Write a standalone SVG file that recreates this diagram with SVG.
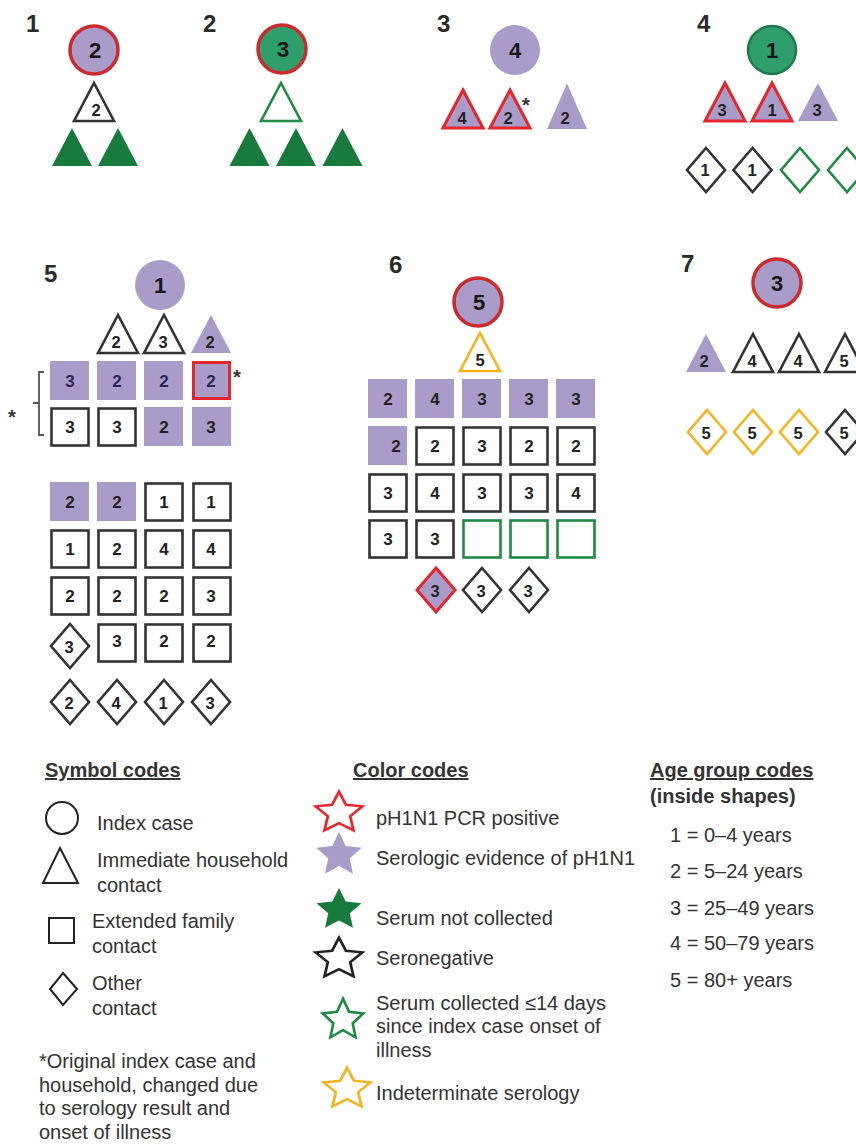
<svg xmlns="http://www.w3.org/2000/svg" xmlns:xlink="http://www.w3.org/1999/xlink" width="856" height="1144" viewBox="0 0 856 1144">
<defs>
<style>
.lav{fill:#a99cc8;stroke:none}
.lavr{fill:#a99cc8;stroke:#e3262b;stroke-width:3}
.lavrc{fill:#a99cc8;stroke:#cc2a2d;stroke-width:3.5}
.blk{fill:#fff;stroke:#333;stroke-width:2.6}
.go{fill:#fff;stroke:#1e8a42;stroke-width:2.6}
.yo{fill:#fff;stroke:#f5b41f;stroke-width:2.6}
.gf{fill:#187a3c;stroke:none}
.teal{fill:#2e9e6c;stroke:#cc2a2d;stroke-width:3.5}
.teal2{fill:#2e9e6c;stroke:#1f7a48;stroke-width:2.5}
.pn{font-family:"Liberation Sans",Arial,sans-serif;font-weight:bold;font-size:24px;fill:#2a2a2a}
.c{font-family:"Liberation Sans",Arial,sans-serif;font-weight:bold;font-size:22px;fill:#161616;text-anchor:middle}
.s{font-family:"Liberation Sans",Arial,sans-serif;font-weight:bold;font-size:17px;fill:#222;text-anchor:middle}
.sn{font-family:"Liberation Sans",Arial,sans-serif;font-weight:bold;font-size:17px;fill:#2b2456;text-anchor:middle}
.t{font-family:"Liberation Sans",Arial,sans-serif;font-weight:bold;font-size:16.5px;fill:#222;text-anchor:middle}
.ast{font-family:"Liberation Sans",Arial,sans-serif;font-weight:bold;font-size:20px;fill:#333}
.lg{font-family:"Liberation Sans",Arial,sans-serif;font-size:20px;fill:#333}
.lh{font-family:"Liberation Sans",Arial,sans-serif;font-size:20px;font-weight:bold;fill:#333}
.ls{fill:none;stroke:#222;stroke-width:2}
</style>
<path id="tri" d="M0,-38 L20,0 L-20,0 Z"/>
<path id="dia" d="M0,-22 L19,0 L0,22 L-19,0 Z"/>
<rect id="sq" x="0" y="0" width="39" height="39"/>
<path id="star" d="M0,-22 L6.2,-8.5 L20.92,-6.8 L10,3.3 L12.93,17.8 L0,10.5 L-12.93,17.8 L-10,3.3 L-20.92,-6.8 L-6.2,-8.5 Z"/>
</defs>
<rect x="0" y="0" width="856" height="1144" fill="#fff"/>

<g id="panel-labels">
<text class="pn" x="26" y="32">1</text>
<text class="pn" x="203" y="32">2</text>
<text class="pn" x="437" y="32">3</text>
<text class="pn" x="697" y="32">4</text>
<text class="pn" x="44" y="282">5</text>
<text class="pn" x="389" y="273">6</text>
<text class="pn" x="681" y="272">7</text>
</g>

<g id="connectors"></g>

<!-- Panel 1 -->
<g id="p1-index"><circle cx="94" cy="50" r="24" class="lavrc"/><text class="c" x="95" y="58">2</text></g>
<g id="p1-t1"><use xlink:href="#tri" x="94" y="121" class="blk"/><text class="t" x="96" y="116">2</text></g>
<g id="p1-t2"><use xlink:href="#tri" x="72" y="166" class="gf"/></g>
<g id="p1-t3"><use xlink:href="#tri" x="118" y="166" class="gf"/></g>

<!-- Panel 2 -->
<g id="p2-index"><circle cx="282" cy="49" r="24" class="teal"/><text class="c" x="283" y="57">3</text></g>
<g id="p2-t1"><use xlink:href="#tri" x="281" y="121" class="go"/></g>
<g id="p2-t2"><use xlink:href="#tri" x="249.5" y="166" class="gf"/></g>
<g id="p2-t3"><use xlink:href="#tri" x="296" y="166" class="gf"/></g>
<g id="p2-t4"><use xlink:href="#tri" x="342.5" y="166" class="gf"/></g>

<!-- Panel 3 -->
<g id="p3-index"><circle cx="515" cy="50" r="25" class="lav"/><text class="c" x="515" y="58">4</text></g>
<g id="p3-t1"><use xlink:href="#tri" x="463" y="128" class="lavr"/><text class="t" x="462" y="124">4</text></g>
<g id="p3-t2"><use xlink:href="#tri" x="510" y="128" class="lavr"/><text class="t" x="508" y="124">2</text><text class="ast" x="522" y="112">*</text></g>
<g id="p3-t3"><use xlink:href="#tri" x="567" y="129" class="lav" transform="translate(567,129) scale(1,1.2) translate(-567,-129)"/><text class="t" x="565" y="124">2</text></g>

<!-- Panel 4 -->
<g id="p4-index"><circle cx="772" cy="50" r="24" class="teal2"/><text class="c" x="772" y="58">1</text></g>
<g id="p4-t1"><use xlink:href="#tri" x="725" y="121" class="lavr"/><text class="t" x="722" y="116">3</text></g>
<g id="p4-t2"><use xlink:href="#tri" x="772" y="121" class="lavr"/><text class="t" x="772" y="116">1</text></g>
<g id="p4-t3"><use xlink:href="#tri" x="818" y="121" class="lav"/><text class="t" x="817" y="116">3</text></g>
<g id="p4-d1"><use xlink:href="#dia" x="706" y="170" class="blk"/><text class="t" x="705" y="176">1</text></g>
<g id="p4-d2"><use xlink:href="#dia" x="752.5" y="170" class="blk"/><text class="t" x="752" y="176">1</text></g>
<g id="p4-d3"><use xlink:href="#dia" x="800" y="170" class="go"/></g>
<g id="p4-d4"><use xlink:href="#dia" x="847" y="170" class="go"/></g>

<!-- Panel 5 -->
<g id="p5-index"><circle cx="160" cy="285" r="25" class="lav"/><text class="c" x="160" y="293">1</text></g>
<g id="p5-t1"><use xlink:href="#tri" x="118" y="353" class="blk"/><text class="t" x="116" y="348">2</text></g>
<g id="p5-t2"><use xlink:href="#tri" x="164" y="353" class="blk"/><text class="t" x="163" y="348">3</text></g>
<g id="p5-t3"><use xlink:href="#tri" x="211" y="353" class="lav"/><text class="t" x="210" y="348">2</text></g>

<g id="p5-r1c1"><use xlink:href="#sq" x="50" y="361" class="lav"/><text class="sn" x="70" y="387">3</text></g>
<g id="p5-r1c2"><use xlink:href="#sq" x="97" y="361" class="lav"/><text class="sn" x="117" y="387">2</text></g>
<g id="p5-r1c3"><use xlink:href="#sq" x="144" y="361" class="lav"/><text class="sn" x="164" y="387">2</text></g>
<g id="p5-r1c4"><rect x="193.5" y="362.5" width="36" height="36" class="lavr"/><text class="sn" x="211" y="387">2</text><text class="ast" x="233" y="384">*</text></g>

<g id="p5-r2c1"><rect x="51.5" y="408.5" width="37" height="37" class="blk"/><text class="s" x="70" y="433">3</text></g>
<g id="p5-r2c2"><rect x="98.5" y="408.5" width="37" height="37" class="blk"/><text class="s" x="117" y="433">3</text></g>
<g id="p5-r2c3"><use xlink:href="#sq" x="144" y="407" class="lav"/><text class="s" x="164" y="433">2</text></g>
<g id="p5-r2c4"><use xlink:href="#sq" x="192" y="407" class="lav"/><text class="s" x="211" y="433">3</text></g>

<g id="p5-bracket"><path d="M44,372 L39,372 L39,435 L44,435 M39,403 L33,403" fill="none" stroke="#555" stroke-width="1.8"/><text class="ast" x="8" y="424">*</text></g>

<g id="p5-r3c1"><use xlink:href="#sq" x="50" y="482" class="lav"/><text class="s" x="70" y="508">2</text></g>
<g id="p5-r3c2"><use xlink:href="#sq" x="97" y="482" class="lav"/><text class="s" x="117" y="508">2</text></g>
<g id="p5-r3c3"><rect x="145.5" y="483.5" width="37" height="37" class="blk"/><text class="s" x="164" y="508">1</text></g>
<g id="p5-r3c4"><rect x="193.5" y="483.5" width="37" height="37" class="blk"/><text class="s" x="211" y="508">1</text></g>

<g id="p5-r4c1"><rect x="51.5" y="530.5" width="37" height="37" class="blk"/><text class="s" x="70" y="555">1</text></g>
<g id="p5-r4c2"><rect x="98.5" y="530.5" width="37" height="37" class="blk"/><text class="s" x="117" y="555">2</text></g>
<g id="p5-r4c3"><rect x="145.5" y="530.5" width="37" height="37" class="blk"/><text class="s" x="164" y="555">4</text></g>
<g id="p5-r4c4"><rect x="193.5" y="530.5" width="37" height="37" class="blk"/><text class="s" x="211" y="555">4</text></g>

<g id="p5-r5c1"><rect x="51.5" y="577.5" width="37" height="37" class="blk"/><text class="s" x="70" y="602">2</text></g>
<g id="p5-r5c2"><rect x="98.5" y="577.5" width="37" height="37" class="blk"/><text class="s" x="117" y="602">2</text></g>
<g id="p5-r5c3"><rect x="145.5" y="577.5" width="37" height="37" class="blk"/><text class="s" x="164" y="602">2</text></g>
<g id="p5-r5c4"><rect x="193.5" y="577.5" width="37" height="37" class="blk"/><text class="s" x="211" y="602">3</text></g>

<g id="p5-r6c1"><use xlink:href="#dia" x="70" y="646" class="blk"/><text class="t" x="69" y="653">3</text></g>
<g id="p5-r6c2"><rect x="98.5" y="624.5" width="37" height="37" class="blk"/><text class="s" x="117" y="647">3</text></g>
<g id="p5-r6c3"><rect x="145.5" y="624.5" width="37" height="37" class="blk"/><text class="s" x="164" y="647">2</text></g>
<g id="p5-r6c4"><rect x="193.5" y="624.5" width="37" height="37" class="blk"/><text class="s" x="211" y="647">2</text></g>

<g id="p5-r7c1"><use xlink:href="#dia" x="70" y="702" class="blk"/><text class="t" x="69" y="709">2</text></g>
<g id="p5-r7c2"><use xlink:href="#dia" x="117" y="702" class="blk"/><text class="t" x="116" y="709">4</text></g>
<g id="p5-r7c3"><use xlink:href="#dia" x="164" y="702" class="blk"/><text class="t" x="163" y="709">1</text></g>
<g id="p5-r7c4"><use xlink:href="#dia" x="211" y="702" class="blk"/><text class="t" x="210" y="709">3</text></g>

<!-- Panel 6 -->
<g id="p6-index"><circle cx="478" cy="302" r="24" class="lavrc"/><text class="c" x="479" y="310">5</text></g>
<g id="p6-t1"><use xlink:href="#tri" x="480" y="371" class="yo"/><text class="t" x="480" y="366">5</text></g>

<g id="p6-r1c1"><use xlink:href="#sq" x="368" y="379" class="lav"/><text class="s" x="388" y="405">2</text></g>
<g id="p6-r1c2"><use xlink:href="#sq" x="415" y="379" class="lav"/><text class="s" x="435" y="405">4</text></g>
<g id="p6-r1c3"><use xlink:href="#sq" x="462" y="379" class="lav"/><text class="s" x="482" y="405">3</text></g>
<g id="p6-r1c4"><use xlink:href="#sq" x="509" y="379" class="lav"/><text class="s" x="529" y="405">3</text></g>
<g id="p6-r1c5"><use xlink:href="#sq" x="556" y="379" class="lav"/><text class="s" x="576" y="405">3</text></g>

<g id="p6-r2c1"><use xlink:href="#sq" x="368" y="426" class="lav"/><text class="s" x="396" y="452">2</text></g>
<g id="p6-r2c2"><rect x="416.5" y="427.5" width="37" height="37" class="blk"/><text class="s" x="435" y="452">2</text></g>
<g id="p6-r2c3"><rect x="463.5" y="427.5" width="37" height="37" class="blk"/><text class="s" x="482" y="452">3</text></g>
<g id="p6-r2c4"><rect x="510.5" y="427.5" width="37" height="37" class="blk"/><text class="s" x="529" y="452">2</text></g>
<g id="p6-r2c5"><rect x="557.5" y="427.5" width="37" height="37" class="blk"/><text class="s" x="576" y="452">2</text></g>

<g id="p6-r3c1"><rect x="369.5" y="474.5" width="37" height="37" class="blk"/><text class="s" x="388" y="499">3</text></g>
<g id="p6-r3c2"><rect x="416.5" y="474.5" width="37" height="37" class="blk"/><text class="s" x="435" y="499">4</text></g>
<g id="p6-r3c3"><rect x="463.5" y="474.5" width="37" height="37" class="blk"/><text class="s" x="482" y="499">3</text></g>
<g id="p6-r3c4"><rect x="510.5" y="474.5" width="37" height="37" class="blk"/><text class="s" x="529" y="499">3</text></g>
<g id="p6-r3c5"><rect x="557.5" y="474.5" width="37" height="37" class="blk"/><text class="s" x="576" y="499">4</text></g>

<g id="p6-r4c1"><rect x="369.5" y="520.5" width="37" height="37" class="blk"/><text class="s" x="388" y="545">3</text></g>
<g id="p6-r4c2"><rect x="416.5" y="520.5" width="37" height="37" class="blk"/><text class="s" x="435" y="545">3</text></g>
<g id="p6-r4c3"><rect x="463.5" y="520.5" width="37" height="37" class="go"/></g>
<g id="p6-r4c4"><rect x="510.5" y="520.5" width="37" height="37" class="go"/></g>
<g id="p6-r4c5"><rect x="557.5" y="520.5" width="37" height="37" class="go"/></g>

<g id="p6-d1"><use xlink:href="#dia" x="436" y="590" class="lavr"/><text class="t" x="435" y="597">3</text></g>
<g id="p6-d2"><use xlink:href="#dia" x="482" y="590" class="blk"/><text class="t" x="481" y="597">3</text></g>
<g id="p6-d3"><use xlink:href="#dia" x="529" y="590" class="blk"/><text class="t" x="528" y="597">3</text></g>

<!-- Panel 7 -->
<g id="p7-index"><circle cx="777" cy="283" r="24" class="lavrc"/><text class="c" x="777" y="291">3</text></g>
<g id="p7-t1"><use xlink:href="#tri" x="706" y="372" class="lav"/><text class="t" x="704" y="367">2</text></g>
<g id="p7-t2"><use xlink:href="#tri" x="753" y="372" class="blk"/><text class="t" x="752" y="367">4</text></g>
<g id="p7-t3"><use xlink:href="#tri" x="799" y="372" class="blk"/><text class="t" x="798" y="367">4</text></g>
<g id="p7-t4"><use xlink:href="#tri" x="845" y="372" class="blk"/><text class="t" x="844" y="367">5</text></g>
<g id="p7-d1"><use xlink:href="#dia" x="707" y="432" class="yo"/><text class="t" x="706" y="439">5</text></g>
<g id="p7-d2"><use xlink:href="#dia" x="753" y="432" class="yo"/><text class="t" x="752" y="439">5</text></g>
<g id="p7-d3"><use xlink:href="#dia" x="799" y="432" class="yo"/><text class="t" x="798" y="439">5</text></g>
<g id="p7-d4"><use xlink:href="#dia" x="845" y="432" class="blk"/><text class="t" x="844" y="439">5</text></g>

<!-- Legend: symbol codes -->
<g id="legend-symbols">
<text class="lh" x="45" y="777" text-decoration="underline">Symbol codes</text>
<circle cx="62" cy="818" r="16" class="ls"/>
<text class="lg" x="97" y="830">Index case</text>
<path d="M60,848 L78,883 L43,883 Z" class="ls"/>
<text class="lg" x="97" y="867">Immediate household</text>
<text class="lg" x="97" y="892">contact</text>
<rect x="49" y="918" width="25" height="25" class="ls"/>
<text class="lg" x="92" y="928">Extended family</text>
<text class="lg" x="92" y="953">contact</text>
<path d="M63,973 L77,989 L63,1005 L50,989 Z" class="ls"/>
<text class="lg" x="92" y="990">Other</text>
<text class="lg" x="92" y="1015">contact</text>
<text class="lg" x="39" y="1068">*Original index case and</text>
<text class="lg" x="39" y="1092">household, changed due</text>
<text class="lg" x="39" y="1115">to serology result and</text>
<text class="lg" x="39" y="1139">onset of illness</text>
</g>

<!-- Legend: color codes -->
<g id="legend-colors">
<text class="lh" x="353" y="777" text-decoration="underline">Color codes</text>
<use xlink:href="#star" transform="translate(339,813) scale(1.12,0.97)" fill="#fff" stroke="#e8262b" stroke-width="2.5"/>
<text class="lg" x="376" y="825">pH1N1 PCR positive</text>
<use xlink:href="#star" transform="translate(339,855) scale(1.08,1.05)" fill="#a99cc8"/>
<text class="lg" x="376" y="865">Serologic evidence of pH1N1</text>
<use xlink:href="#star" transform="translate(339,910) scale(1.08,1.0)" fill="#187a3c"/>
<text class="lg" x="376" y="925">Serum not collected</text>
<use xlink:href="#star" transform="translate(339,959) scale(1.12,0.97)" fill="#fff" stroke="#222" stroke-width="2.5"/>
<text class="lg" x="376" y="965">Seronegative</text>
<use xlink:href="#star" transform="translate(343,1020) scale(0.97,0.97)" fill="#fff" stroke="#1e8a42" stroke-width="2.7"/>
<text class="lg" x="376" y="1010">Serum collected ≤14 days</text>
<text class="lg" x="376" y="1033">since index case onset of</text>
<text class="lg" x="376" y="1057">illness</text>
<use xlink:href="#star" transform="translate(347,1089) scale(1.12,0.97)" fill="#fff" stroke="#f5b41f" stroke-width="2.5"/>
<text class="lg" x="376" y="1100">Indeterminate serology</text>
</g>

<!-- Legend: age group codes -->
<g id="legend-ages">
<text class="lh" x="650" y="777" text-decoration="underline">Age group codes</text>
<text class="lh" x="650" y="803">(inside shapes)</text>
<text class="lg" x="670" y="842">1 = 0–4 years</text>
<text class="lg" x="670" y="878">2 = 5–24 years</text>
<text class="lg" x="670" y="915">3 = 25–49 years</text>
<text class="lg" x="670" y="950">4 = 50–79 years</text>
<text class="lg" x="670" y="987">5 = 80+ years</text>
</g>
</svg>
